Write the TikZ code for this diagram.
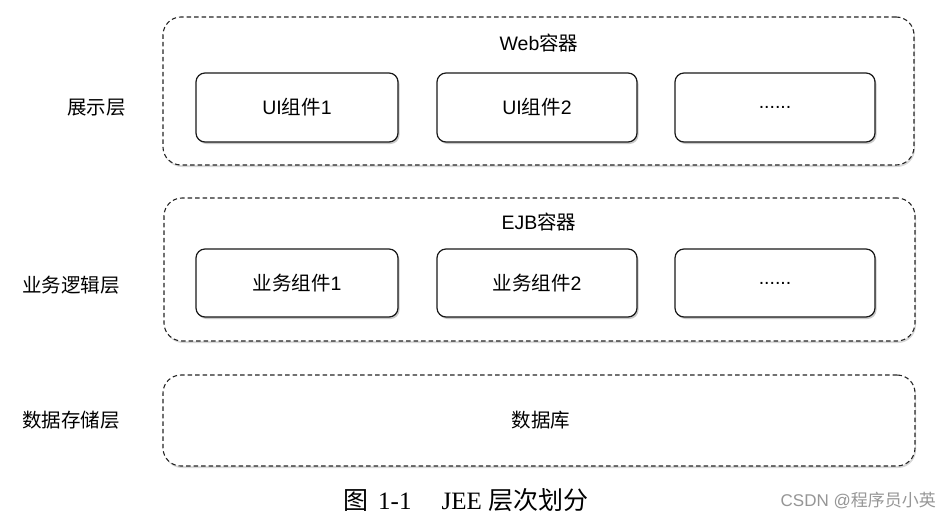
\documentclass[tikz,border=0pt]{standalone}
\usepackage{fontspec}
\setmainfont{Liberation Sans}
\newfontfamily\cjk{Noto Sans CJK SC}
\newfontfamily\serifl{Liberation Serif}
\usetikzlibrary{shadows}
\definecolor{wm}{RGB}{150,150,150}
\begin{document}
\begin{tikzpicture}[x=1pt,y=-1pt,
  outerbox/.style={draw=black!85, line width=1.1pt, dash pattern=on 4.5pt off 3pt, rounded corners=18pt, inner sep=0pt,
     drop shadow={shadow xshift=1pt, shadow yshift=-2pt, fill=black!30, opacity=0.5}, fill=white},
  innerbox/.style={draw=black!90, line width=1.2pt, rounded corners=9pt, minimum width=200pt, minimum height=68pt, inner sep=0pt,
     drop shadow={shadow xshift=1.5pt, shadow yshift=-2pt, fill=black!35, opacity=0.6}, fill=white, font=\fontsize{19.5}{22}\selectfont},
  lbl/.style={font=\fontsize{19.5}{22}\selectfont, inner sep=0pt},
]
\useasboundingbox[fill=white] (0,0) rectangle (945,522);
% outer containers
\node[outerbox, minimum width=751pt, minimum height=148pt] (web) at (538.5,91) {};
\node[outerbox, minimum width=751pt, minimum height=143pt] (ejb) at (539.5,269.5) {};
\node[outerbox, minimum width=752pt, minimum height=91pt] (db) at (539,420.5) {};
% container titles
\node[lbl] (webt) at (539,43) {Web{\cjk 容器}};
\node[lbl] (ejbt) at (539,222) {EJB{\cjk 容器}};
\node[lbl] (dbt) at (541,420) {\cjk 数据库};
% inner components
\node[innerbox, minimum width=202pt, minimum height=69pt] (ui1) at (297,107.5) {UI{\cjk 组件}1};
\node[innerbox, minimum height=69pt] (ui2) at (537,107.5) {UI{\cjk 组件}2};
\node[innerbox, minimum height=69pt] (ui3) at (775,107.5) {......};
\node[innerbox, minimum width=202pt] (bz1) at (297,283) {{\cjk 业务组件}1};
\node[innerbox] (bz2) at (537,283) {{\cjk 业务组件}2};
\node[innerbox] (bz3) at (775,283) {......};
% layer labels
\node[lbl] (l1) at (96.5,108) {\cjk 展示层};
\node[lbl] (l2) at (71,285) {\cjk 业务逻辑层};
\node[lbl] (l3) at (71,420) {\cjk 数据存储层};
% caption
\node[inner sep=0pt, font=\fontsize{25}{28}\selectfont] (cap) at (466,500) {{\cjk 图}\hspace{10pt}{\serifl 1-1}\hspace{30pt}{\serifl JEE} {\cjk 层次划分}};
\node[inner sep=0pt, anchor=east, text=wm, font=\fontsize{17}{20}\selectfont] (wmk) at (936,500) {CSDN @{\cjk 程序员小英}};
\end{tikzpicture}
\end{document}
